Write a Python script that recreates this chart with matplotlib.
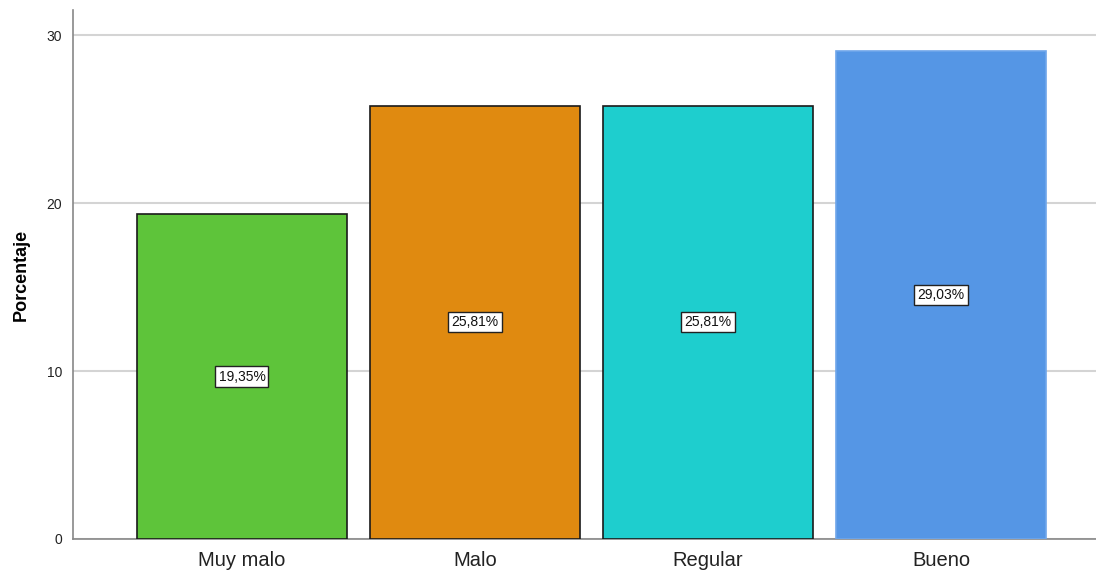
import matplotlib.pyplot as plt

plt.rcParams['font.family'] = ['Liberation Sans', 'DejaVu Sans']

categories = ['Muy malo', 'Malo', 'Regular', 'Bueno']
porcentajes = [19.35, 25.81, 25.81, 29.03]
colores = ['#5ec43a', '#e08a10', '#1ecece', '#5596e5']
bordes = ['#1a1a1a', '#1a1a1a', '#1a1a1a', '#6fa6ea']

fig = plt.figure(figsize=(10.96, 5.72), dpi=100)
ax = fig.add_axes([0.0666, 0.0577, 0.9334, 0.9248])

x = range(len(categories))
ax.bar(x, porcentajes, width=0.9, color=colores, edgecolor=bordes, linewidth=1.2, zorder=3)

for i, v in zip(x, porcentajes):
    ax.text(i, v / 2, f'{v:.2f}%'.replace('.', ','), ha='center', va='center',
            fontsize=10, zorder=4, color='#111111',
            bbox=dict(boxstyle='square,pad=0.22', facecolor='white', edgecolor='#222222', linewidth=1))

ax.set_xlim(-0.725, 3.665)
ax.set_ylim(0, 31.5)
ax.set_yticks([0, 10, 20, 30])
ax.set_xticks(list(x))
ax.set_xticklabels(categories, fontsize=14.5, color='#222222')
ax.tick_params(axis='y', length=0, labelsize=10, pad=8, colors='#222222')
ax.tick_params(axis='x', length=0, pad=9)
ax.yaxis.grid(True, color='#d4d4d4', linewidth=1.5, zorder=0)
ax.set_ylabel('Porcentaje', fontsize=13, fontweight='bold', labelpad=12)

for s in ['top', 'right']:
    ax.spines[s].set_visible(False)
ax.spines['left'].set_color('#888888')
ax.spines['bottom'].set_color('#888888')
ax.spines['left'].set_linewidth(1.2)
ax.spines['bottom'].set_linewidth(1.2)

fig.savefig('out.png', dpi=100)
